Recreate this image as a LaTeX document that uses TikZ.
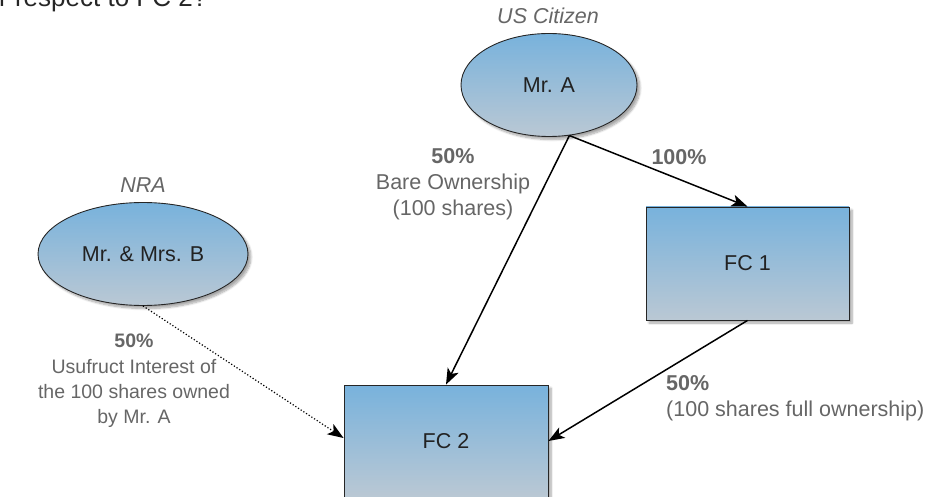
\documentclass[tikz,border=0pt]{standalone}
\usepackage{fontspec}
\setmainfont{Liberation Sans}
\usetikzlibrary{shapes.geometric,arrows.meta,shadows.blur}

\definecolor{boxtop}{HTML}{78B2DC}
\definecolor{boxbottom}{HTML}{BAC8D4}
\definecolor{labelgrey}{HTML}{666666}
\definecolor{textdark}{HTML}{222222}

\tikzset{
  entity/.style={draw=black!85, line width=0.9pt,
    top color=boxtop, bottom color=boxbottom,
    blur shadow={shadow xshift=3pt, shadow yshift=-3pt, shadow blur steps=8, shadow opacity=35},
    text=textdark, font=\fontsize{21.5}{25}\selectfont},
  person/.style={entity, ellipse},
  company/.style={entity, rectangle, inner sep=0pt},
  tag/.style={text=labelgrey, font=\fontsize{21.5}{25}\selectfont\itshape},
  lbl/.style={text=labelgrey, font=\fontsize{21.5}{26}\selectfont, inner sep=0pt},
  own/.style={line width=1.5pt, -{Stealth[length=16pt,width=12pt,inset=4pt]}},
  usu/.style={line width=1.2pt, dotted, -{Stealth[length=16pt,width=12pt,inset=4pt]}}
}

\begin{document}
\begin{tikzpicture}[x=1pt,y=-1pt]
  \useasboundingbox (0,0) rectangle (937,497);
  \clip (0,0) rectangle (937,497);

  % question heading, partly above the page
  \node[anchor=base west, inner sep=0pt, text=black!85,
        font=\fontsize{26}{30}\selectfont] (question) at (-1,7) {r respect to FC 2?};

  % owners
  \node[person, minimum width=176pt, minimum height=103pt] (mra) at (549,85) {Mr. A};
  \node[tag] (mratag) at (548,16) {US Citizen};
  \node[person, minimum width=210pt, minimum height=103pt] (mrb) at (143,254) {Mr. \& Mrs. B};
  \node[tag] (mrbtag) at (143,185) {NRA};

  % companies
  \node[company, minimum width=203pt, minimum height=113pt] (fc1) at (747.5,263.5) {FC 1};
  \node[company, minimum width=204pt, minimum height=112pt] (fc2) at (446,441) {FC 2};

  % ownership links
  \draw[own] (mra.-68) -- (fc1.north);
  \draw[own] (mra.-68) -- (fc2.north);
  \draw[own] (fc1.south) -- (fc2.east);
  \draw[usu] (mrb.south) -- ([yshift=3pt]fc2.west);

  % link labels
  \node[lbl, font=\fontsize{21.5}{26}\selectfont\bfseries] (l100) at (679,157) {100\%};
  \node[lbl, align=center] (lbare) at (453,184)
    {\textbf{50\%}\\Bare Ownership\\(100 shares)};
  \node[lbl, align=center, font=\fontsize{19.5}{25.3}\selectfont] (lusu) at (134,381)
    {\textbf{50\%}\\Usufruct Interest of\\the 100 shares owned\\by Mr. A};
  \node[lbl, align=left, anchor=west] (lfull) at (666,398)
    {\textbf{50\%}\\(100 shares full ownership)};
\end{tikzpicture}
\end{document}
